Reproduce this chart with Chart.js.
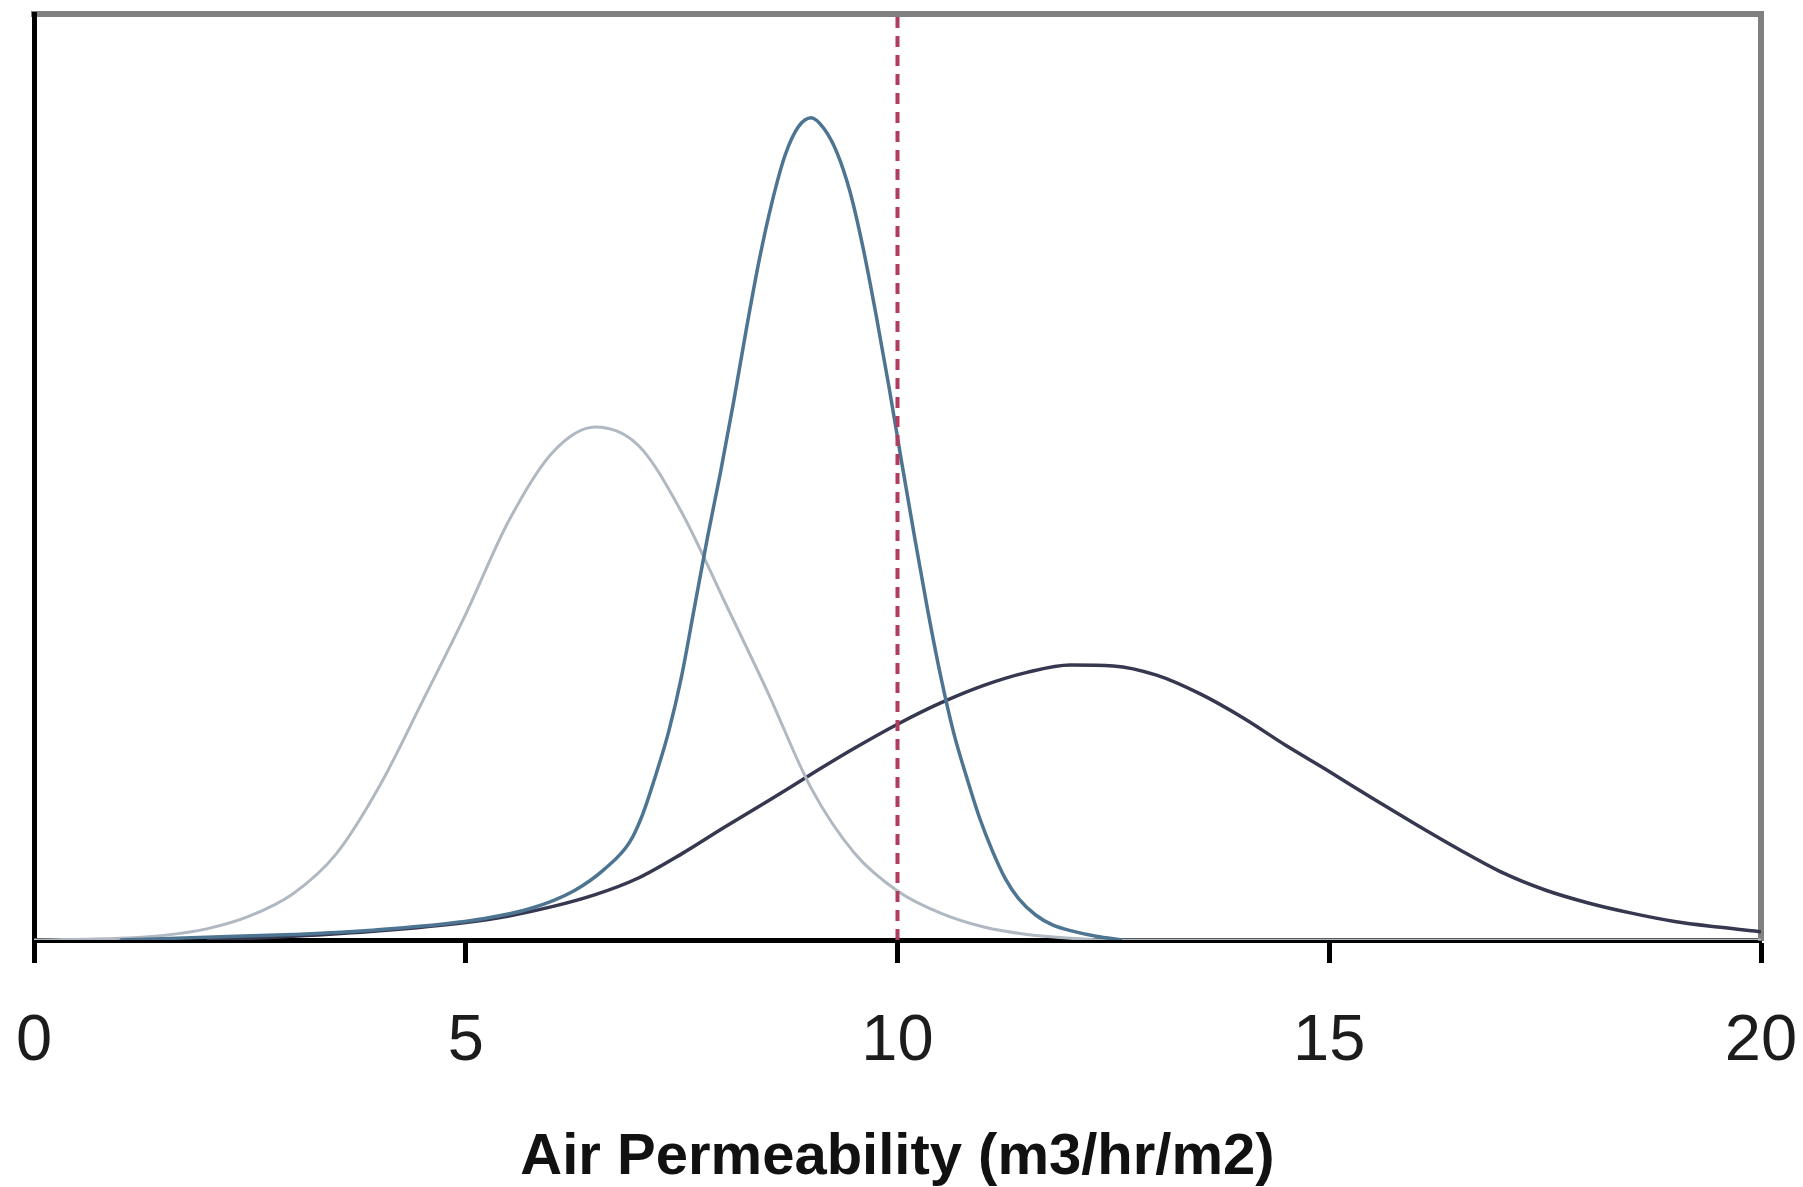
<!DOCTYPE html>
<html>
<head>
<meta charset="utf-8">
<title>Air Permeability distributions</title>
<script src="https://cdn.jsdelivr.net/npm/chart.js@4/dist/chart.umd.min.js"></script>
<style>
  html, body { margin: 0; padding: 0; background: #ffffff; }
  #wrap { width: 1803px; height: 1187px; }
</style>
</head>
<body>
<div id="wrap"><canvas id="chart" width="1803" height="1187"></canvas></div>
<script>
// x axis: air permeability, y axis: relative frequency (no scale shown, 0..100 = bottom..top of frame)
const tickValues = [0, 5, 10, 15, 20];
const axisTitle = 'Air Permeability (m3/hr/m2)';
const thresholdX = 10;

// light grey curve, peak around 6.5
const greyX = [0, 1.0, 1.5, 2.0, 2.5, 3.0, 3.5, 4.0, 4.5, 5.0, 5.5, 6.0, 6.5, 7.0, 7.5, 8.0, 8.5, 9.0, 9.5, 10.0, 10.5, 11.0, 11.5, 12.0, 12.5, 20];
const greyY = [0, 0.2, 0.5, 1.2, 2.6, 5.0, 9.3, 16.6, 25.8, 35.2, 45.3, 52.6, 55.4, 53.4, 46.2, 36.5, 26.7, 16.4, 9.4, 5.3, 2.9, 1.4, 0.6, 0.2, 0, 0];

// steel blue curve, tall and narrow, peak around 9
const blueX = [1.0, 2.0, 3.0, 3.5, 4.5, 5.2, 5.75, 6.25, 6.6, 6.9, 7.05, 7.2, 7.35, 7.5, 7.65, 7.8, 7.95, 8.1, 8.25, 8.4, 8.55, 8.7, 8.85, 9.0, 9.15, 9.3, 9.45, 9.6, 9.75, 9.9, 10.05, 10.2, 10.35, 10.5, 10.65, 10.8, 10.95, 11.1, 11.25, 11.4, 11.6, 11.8, 12.05, 12.3, 12.6];
const blueY = [0, 0.3, 0.6, 0.8, 1.5, 2.3, 3.4, 5.3, 7.6, 10.6, 13.6, 17.8, 22.5, 28.5, 36.0, 43.5, 50.5, 58.0, 66.0, 73.5, 79.8, 84.8, 87.8, 88.8, 87.6, 85.0, 80.8, 74.8, 67.6, 59.8, 51.5, 43.4, 35.6, 28.5, 22.4, 17.6, 13.2, 9.6, 6.6, 4.5, 2.7, 1.6, 0.9, 0.4, 0];

// dark navy curve, broad, peak around 12
const navyX = [2.0, 3.0, 4.0, 5.0, 5.5, 6.0, 6.5, 7.0, 7.5, 8.0, 8.5, 9.0, 9.5, 10.0, 10.5, 11.0, 11.5, 12.0, 12.5, 13.0, 13.5, 14.0, 14.5, 15.0, 15.5, 16.0, 16.5, 17.0, 17.5, 18.0, 18.5, 19.0, 19.5, 20.0];
const navyY = [0, 0.4, 1.0, 1.9, 2.6, 3.6, 4.9, 6.7, 9.3, 12.2, 15.0, 17.9, 20.7, 23.3, 25.6, 27.5, 28.9, 29.7, 29.6, 28.6, 26.6, 24.0, 21.0, 18.2, 15.3, 12.5, 9.8, 7.3, 5.4, 4.0, 2.9, 2.0, 1.4, 0.9];

const FONT = "'Liberation Sans', Arial, Helvetica, sans-serif";

function toPoints(xs, ys) {
  return xs.map((x, i) => ({ x: x, y: ys[i] }));
}

function curve(xs, ys, color, width) {
  return {
    data: toPoints(xs, ys),
    borderColor: color,
    borderWidth: width,
    pointRadius: 0,
    fill: false,
    cubicInterpolationMode: 'monotone'
  };
}

const datasets = [
  {
    data: [{ x: thresholdX, y: 0 }, { x: thresholdX, y: 100 }],
    borderColor: '#b03c5e',
    borderWidth: 4,
    borderDash: [11, 8],
    pointRadius: 0,
    fill: false
  },
  curve(blueX, blueY, '#4d7491', 3.5),
  curve(greyX, greyY, '#b0b8c1', 3),
  curve(navyX, navyY, '#363850', 3.5)
];

const hiddenEdge = (color, w) => ({
  display: true,
  ticks: { display: false },
  grid: { display: false },
  border: { display: true, color: color, width: w }
});

new Chart(document.getElementById('chart'), {
  type: 'line',
  data: { datasets: datasets },
  options: {
    responsive: false,
    animation: false,
    layout: { padding: { left: 34, right: 42, top: 14, bottom: 0 } },
    plugins: { legend: { display: false }, tooltip: { enabled: false } },
    scales: {
      x: {
        type: 'linear',
        position: 'bottom',
        min: 0,
        max: 20,
        afterBuildTicks: (s) => { s.ticks = tickValues.map(v => ({ value: v })); },
        afterFit: (s) => {
          s.height = 247;
          // labels at the ends may hang over the frame, don't let them shrink the plot
          s.paddingLeft = 0;
          s.paddingRight = 0;
        },
        ticks: {
          color: '#1c1c1c',
          padding: 40,
          maxRotation: 0,
          autoSkip: false,
          font: { family: FONT, size: 65 }
        },
        grid: {
          display: true,
          drawOnChartArea: false,
          drawTicks: true,
          tickLength: 23,
          tickWidth: 5,
          tickColor: '#000000'
        },
        border: { display: true, color: '#000000', width: 5 },
        title: {
          display: true,
          text: axisTitle,
          color: '#111111',
          padding: { top: 0, bottom: 0 },
          font: { family: FONT, size: 58, weight: 'bold', lineHeight: 1 }
        }
      },
      x2: Object.assign({ type: 'linear', position: 'top', min: 0, max: 20,
        afterFit: (s) => { s.height = 0; } }, hiddenEdge('#808080', 6)),
      y: Object.assign({ type: 'linear', position: 'left', min: 0, max: 100,
        afterFit: (s) => { s.width = 0; } }, hiddenEdge('#000000', 5)),
      y2: Object.assign({ type: 'linear', position: 'right', min: 0, max: 100,
        afterFit: (s) => { s.width = 0; } }, hiddenEdge('#808080', 6))
    }
  }
});
</script>
</body>
</html>
